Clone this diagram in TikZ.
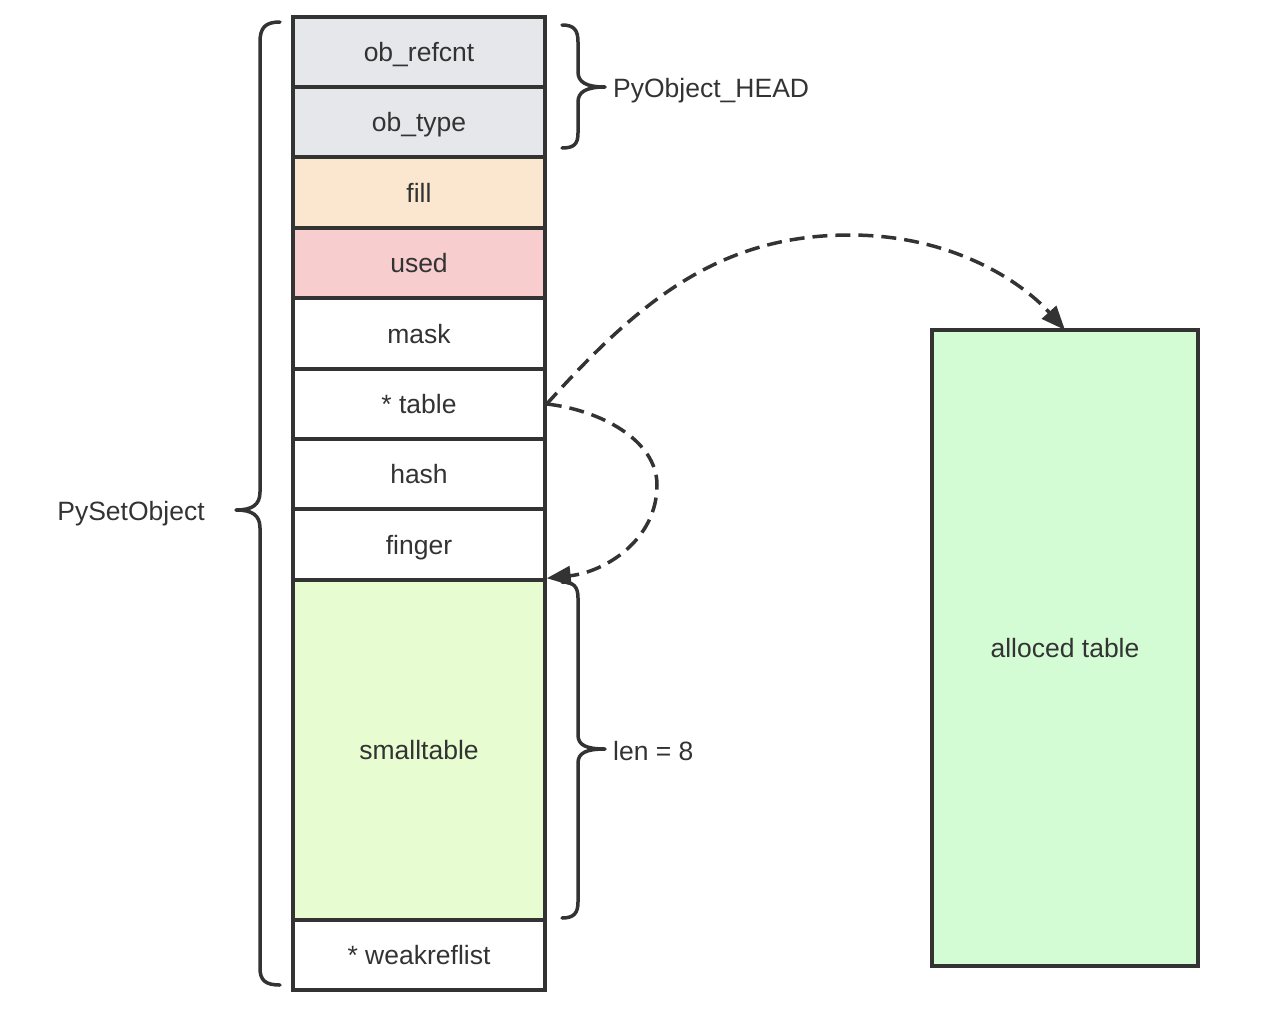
\documentclass[tikz,border=0pt]{standalone}
\usepackage{fontspec}
\setmainfont{Liberation Sans}
\usetikzlibrary{arrows.meta}
\definecolor{ink}{HTML}{333333}
\definecolor{cgrey}{HTML}{E6E7EA}
\definecolor{cpeach}{HTML}{FBE7D0}
\definecolor{cpink}{HTML}{F7CDCD}
\definecolor{cyellowgreen}{HTML}{E8FCD2}
\definecolor{cgreen}{HTML}{D4FCD4}
\begin{document}
\begin{tikzpicture}[x=1pt,y=-1pt,
  cell/.style={draw=ink, line width=3.5pt, minimum width=252pt, inner sep=0pt, anchor=center, text=ink, text height=19pt, text depth=0pt, font=\fontsize{26.5}{31}\selectfont},
  lbl/.style={text=ink, font=\fontsize{26.5}{31}\selectfont, inner sep=0pt, text height=19pt, text depth=0pt},
  brace/.style={draw=ink, line width=3.5pt, line cap=round, line join=round},
  ptr/.style={draw=ink, line width=3.5pt, dash pattern=on 15pt off 8pt, -{Triangle[length=24pt,width=19pt]}}]
\useasboundingbox (0,0) rectangle (1262,1026);
\node[cell, fill=cgrey, minimum height=70pt] (r1) at (419,52) {ob\_refcnt};
\node[cell, fill=cgrey, minimum height=70pt] (r2) at (419,122) {ob\_type};
\node[cell, fill=cpeach, minimum height=71pt] (r3) at (419,192.5) {fill};
\node[cell, fill=cpink, minimum height=70pt] (r4) at (419,263) {used};
\node[cell, fill=white, minimum height=71pt] (r5) at (419,333.5) {mask};
\node[cell, fill=white, minimum height=70pt] (r6) at (419,404) {* table};
\node[cell, fill=white, minimum height=70pt] (r7) at (419,474) {hash};
\node[cell, fill=white, minimum height=71pt] (r8) at (419,544.5) {finger};
\node[cell, fill=cyellowgreen, minimum height=340pt] (r9) at (419,750) {smalltable};
\node[cell, fill=white, minimum height=70pt] (r10) at (419,955) {* weakreflist};
\node[cell, fill=cgreen, minimum width=266pt, minimum height=636pt] (alloc) at (1065,648) {alloced table};
% braces
\draw[brace] (280,22) .. controls (265,22) and (260,28) .. (260,42) -- (260,492) .. controls (260,505) and (252,510) .. (236,510) .. controls (252,510) and (260,515) .. (260,528) -- (260,968) .. controls (260,980) and (265,985) .. (280,985);
\draw[brace] (562,25) .. controls (574,25) and (578,30) .. (578,42) -- (578,72) .. controls (578,82) and (586,87) .. (605,87) .. controls (586,87) and (578,92) .. (578,102) -- (578,133) .. controls (578,144) and (574,148) .. (562,148);
\draw[brace] (562,582) .. controls (574,582) and (578,587) .. (578,598) -- (578,735) .. controls (578,745) and (586,749) .. (605,749) .. controls (586,749) and (578,753) .. (578,763) -- (578,902) .. controls (578,913) and (574,918) .. (562,918);
\node[lbl, anchor=west] (headlbl) at (613,88) {PyObject\_HEAD};
\node[lbl, anchor=west] (lenlbl) at (613,751) {len = 8};
\node[lbl] (setlbl) at (131,511) {PySetObject};
% pointers
\draw[ptr] (r6.east) .. controls (640,300) and (720,235) .. (850,235) .. controls (950,235) and (1020,280) .. (alloc.north |- 0,330);
\draw[ptr] (r6.east) .. controls (600,410) and (657,440) .. (657,485) .. controls (657,540) and (605,572) .. (r9.north east);
\end{tikzpicture}
\end{document}
